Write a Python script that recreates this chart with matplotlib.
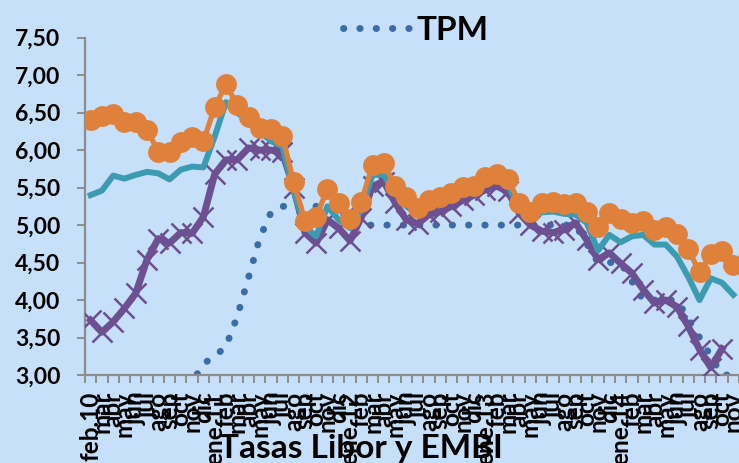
import numpy as np
import matplotlib
matplotlib.use("Agg")
import matplotlib.pyplot as plt

plt.rcParams['font.family'] = ['Lato', 'DejaVu Sans']
plt.rcParams['font.weight'] = 'bold'

# Month labels, feb.10 .. nov.14
months = ["feb.10", "mar", "abr", "may", "jun", "jul", "ago", "sep", "oct", "nov", "dic",
          "ene.11", "feb", "mar", "abr", "may", "jun", "jul", "ago", "sep", "oct", "nov", "dic",
          "ene.12", "feb", "mar", "abr", "may", "jun", "jul", "ago", "sep", "oct", "nov", "dic",
          "ene.13", "feb", "mar", "abr", "may", "jun", "jul", "ago", "sep", "oct", "nov", "dic",
          "ene.14", "feb", "mar", "abr", "may", "jun", "jul", "ago", "sep", "oct", "nov"]

orange = [6.40, 6.46, 6.48, 6.38, 6.38, 6.27, 5.98, 5.97, 6.11, 6.18, 6.12,
          6.57, 6.88, 6.60, 6.44, 6.29, 6.28, 6.19, 5.58, 5.06, 5.11, 5.48, 5.30,
          5.08, 5.31, 5.80, 5.83, 5.52, 5.38, 5.23, 5.34, 5.38, 5.43, 5.51, 5.52,
          5.64, 5.68, 5.62, 5.30, 5.18, 5.29, 5.31, 5.28, 5.30, 5.18, 4.98, 5.16,
          5.08, 5.03, 5.06, 4.93, 4.98, 4.88, 4.68, 4.37, 4.61, 4.65, 4.47]

teal = [5.40, 5.46, 5.66, 5.62, 5.67, 5.71, 5.69, 5.61, 5.74, 5.78, 5.77,
        6.18, 6.64, 6.50, 6.38, 6.25, 6.12, 6.05, 5.45, 4.98, 4.85, 5.25, 5.07,
        4.96, 5.20, 5.67, 5.67, 5.42, 5.25, 5.15, 5.25, 5.30, 5.36, 5.44, 5.46,
        5.57, 5.60, 5.55, 5.20, 5.10, 5.17, 5.18, 5.15, 5.14, 5.03, 4.66, 4.87,
        4.77, 4.85, 4.87, 4.74, 4.74, 4.58, 4.31, 4.00, 4.29, 4.23, 4.07]

purple = [3.73, 3.57, 3.71, 3.89, 4.09, 4.54, 4.82, 4.76, 4.90, 4.89, 5.11,
          5.68, 5.87, 5.87, 6.03, 6.00, 6.00, 5.97, 5.50, 4.90, 4.76, 5.07, 4.96,
          4.79, 5.10, 5.52, 5.58, 5.30, 5.07, 5.02, 5.14, 5.18, 5.25, 5.33, 5.40,
          5.47, 5.52, 5.45, 5.16, 5.00, 4.92, 4.90, 4.94, 5.03, 4.80, 4.54, 4.63,
          4.49, 4.36, 4.14, 3.96, 4.00, 3.91, 3.65, 3.34, 3.10, 3.35, np.nan]

tpm = [0.50, 0.50, 0.50, 0.50, 0.75, 1.25, 1.75, 2.25, 2.60, 2.90, 3.15,
       3.25, 3.38, 3.78, 4.30, 4.83, 5.17, 5.25, 5.25, 5.25, 5.25, 5.25, 5.25,
       5.00, 5.00, 5.00, 5.00, 5.00, 5.00, 5.00, 5.00, 5.00, 5.00, 5.00, 5.00,
       5.00, 5.00, 5.00, 5.00, 5.00, 5.00, 5.00, 5.00, 5.00, 4.75, 4.50, 4.50,
       4.50, 4.25, 4.00, 4.00, 4.00, 4.00, 3.75, 3.50, 3.25, 3.00, 3.00]

yticks = [3.0, 3.5, 4.0, 4.5, 5.0, 5.5, 6.0, 6.5, 7.0, 7.5]

bg = "#C6E0F9"
c_orange = "#DF813A"
c_teal = "#3D9BB1"
c_purple = "#6C5091"
c_tpm = "#3C6CA8"
c_axis = "#8C8C8C"

W, H = 739, 463
fig = plt.figure(figsize=(W / 100, H / 100), dpi=100, facecolor=bg)
ax = fig.add_axes([85 / W, (H - 375) / H, 1 - 85 / W, (375 - 37.7) / H], facecolor=bg)

x = np.arange(len(months))

tpm_line, = ax.plot(x, tpm, color=c_tpm, lw=5.0, linestyle=(0, (0.05, 2.3)),
                    dash_capstyle='round', solid_capstyle='round', zorder=2, label="TPM")
ax.plot(x, purple, color=c_purple, lw=5.0, marker='x', markersize=14,
        markeredgewidth=1.8, solid_joinstyle='round', zorder=3)
ax.plot(x, teal, color=c_teal, lw=4.3, solid_joinstyle='round', zorder=4)
ax.plot(x, orange, color=c_orange, lw=3.8, marker='o', markersize=15,
        markeredgewidth=0, solid_joinstyle='round', zorder=5)

ax.set_ylim(3.0, 7.5)
ax.set_xlim(-0.5, -0.5 + (739 - 85) / 11.33)

ax.set_yticks(yticks)
ax.set_yticklabels([f"{v:.2f}".replace('.', ',') for v in yticks])

ax.set_xticks(np.arange(len(months) + 1) - 0.5)
ax.set_xticklabels([])
ax.set_xticks(x, minor=True)
ax.set_xticklabels(months, minor=True, rotation=90, va='top', ha='center')

for s in ['top', 'right']:
    ax.spines[s].set_visible(False)
for s in ['left', 'bottom']:
    ax.spines[s].set_color(c_axis)
    ax.spines[s].set_linewidth(1.6)

ax.tick_params(axis='y', which='major', direction='out', length=5.8, width=1.4,
               color=c_axis, labelsize=16.5, pad=12)
ax.tick_params(axis='x', which='major', direction='out', length=5.8, width=1.4,
               color=c_axis)
ax.tick_params(axis='x', which='minor', length=0, labelsize=17.5, pad=12)
for lab in ax.get_yticklabels() + ax.get_xticklabels(minor=True):
    lab.set_fontweight('bold')

fig.text(361 / W, 1 - 458 / H, "Tasas Libor y EMBI", ha='center', va='baseline',
         fontsize=24, fontweight='bold', zorder=0)

fig.legend(handles=[tpm_line], loc='center', bbox_to_anchor=(416 / W, 1 - 30 / H),
           frameon=False, prop={'size': 24, 'weight': 'bold'}, handlelength=2.0,
           handletextpad=0.2, borderpad=0)

fig.savefig("out.png", dpi=100, facecolor=bg)
